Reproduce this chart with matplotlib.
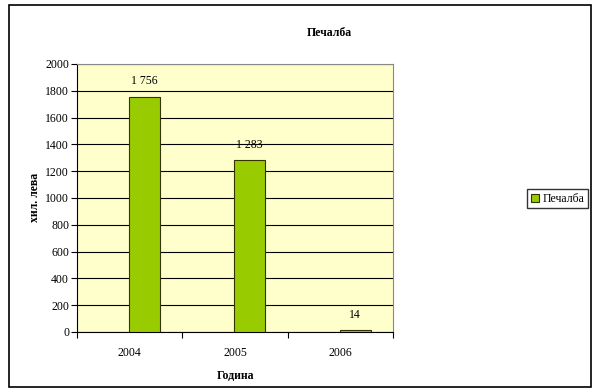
import matplotlib.pyplot as plt
from matplotlib.patches import Rectangle

years = ['2004', '2005', '2006']
profit = [1756, 1283, 14]
labels = ['1 756', '1 283', '14']

plt.rcParams['font.family'] = ['Liberation Serif', 'DejaVu Serif']

fig = plt.figure(figsize=(5.95, 3.9), dpi=100)
ax = fig.add_axes([0.129, 0.149, 0.532, 0.687])

# outer chart border
fig.patches.append(Rectangle((0.015, 0.008), 0.978, 0.98, transform=fig.transFigure,
                             fill=False, edgecolor='black', linewidth=1.2))

x = list(range(len(years)))
# bars sit a bit right of the category centre, like in the original
xb = [i + 0.14 for i in x]
bars = ax.bar(xb, profit, width=0.29, color='#99CC00', edgecolor='#333300',
              linewidth=0.8, label='Печалба', zorder=3)

for xi, v, lab in zip(xb, profit, labels):
    ax.annotate(lab, (xi, v), xytext=(0, 11), textcoords='offset points',
                ha='center', va='center', fontsize=8.5)

ax.set_facecolor('#FFFFCC')
ax.set_xlim(-0.5, 2.5)
ax.set_ylim(0, 2000)
ax.set_yticks(range(0, 2001, 200))
ax.yaxis.grid(True, color='black', linewidth=0.8)
ax.set_axisbelow(True)

ax.set_xticks(x)
ax.set_xticklabels(years)
ax.set_xticks([-0.5, 0.5, 1.5, 2.5], minor=True)
ax.tick_params(axis='x', which='major', length=0, labelsize=8.5, pad=11)
ax.tick_params(axis='x', which='minor', length=4, width=0.8)
ax.tick_params(axis='y', length=4, width=0.8, labelsize=8.5, pad=1.5)

for side in ['top', 'right']:
    ax.spines[side].set_color('#888888')
    ax.spines[side].set_linewidth(0.8)
ax.spines['left'].set_linewidth(0.8)
ax.spines['bottom'].set_linewidth(0.8)

ax.set_xlabel('Година', fontsize=8.5, fontweight='bold', labelpad=8)
ax.set_ylabel('хил. лева', fontsize=8.5, fontweight='bold', labelpad=3)
fig.text(0.553, 0.915, 'Печалба', ha='center', va='center', fontsize=8.5, fontweight='bold')

fig.legend(handles=[bars], labels=['Печалба'], loc='center', bbox_to_anchor=(0.937, 0.49),
           fontsize=8.5, frameon=True, fancybox=False, edgecolor='black',
           handlelength=0.7, handleheight=0.7, handletextpad=0.3, borderpad=0.3)

fig.savefig('out.png', dpi=100)
